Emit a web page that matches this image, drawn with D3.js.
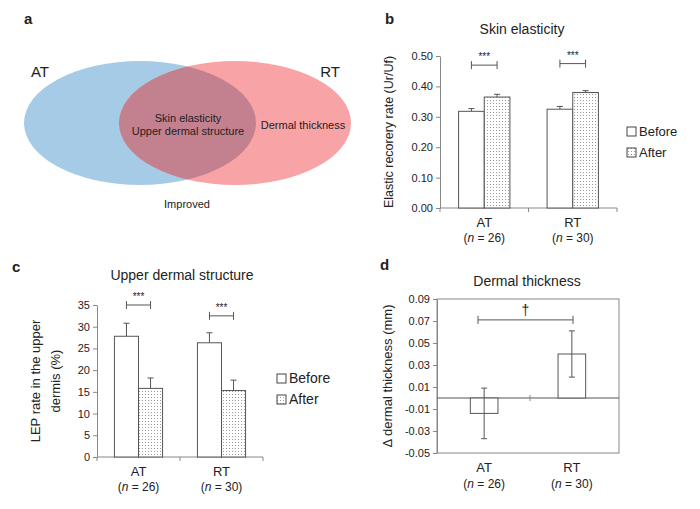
<!DOCTYPE html>
<html><head><meta charset="utf-8">
<script src="https://cdn.jsdelivr.net/npm/d3@7"></script>
<style>body{margin:0;background:#fff}text{font-family:"Liberation Sans",Arial,sans-serif;fill:#222}</style>
</head><body>
<svg id="c" width="700" height="509"></svg>
<script>
const groups = ["AT", "RT"];
const groupN = ["(n = 26)", "(n = 30)"];
const seriesNames = ["Before", "After"];
const elastBefore = [0.318, 0.325], elastBeforeErr = [0.009, 0.009];
const elastAfter = [0.365, 0.380], elastAfterErr = [0.009, 0.006];
const elastTicks = [0, 0.1, 0.2, 0.3, 0.4, 0.5];
const lepBefore = [27.8, 26.3], lepBeforeErr = [3.0, 2.3];
const lepAfter = [15.8, 15.3], lepAfterErr = [2.4, 2.4];
const lepTicks = [0, 5, 10, 15, 20, 25, 30, 35];
const thick = [-0.014, 0.040], thickErrLow = [-0.037, 0.019], thickErrHigh = [0.009, 0.061];
const thickTicks = [-0.05, -0.03, -0.01, 0.01, 0.03, 0.05, 0.07, 0.09];

const FONT = '"Liberation Sans",Arial,sans-serif';
const svg = d3.select("#c");
const defs = svg.append("defs");
const pat = defs.append("pattern").attr("id","dots").attr("width",3).attr("height",3).attr("patternUnits","userSpaceOnUse");
pat.append("rect").attr("width",3).attr("height",3).attr("fill","#fff");
pat.append("rect").attr("x",1).attr("y",1).attr("width",1).attr("height",1).attr("fill","#999");
const grey = "#888";

function label(t,x,y,o={}){const e=svg.append("text").attr("x",x).attr("y",y).text(t).attr("font-size",o.fs||12).attr("text-anchor",o.a||"middle");if(o.b)e.attr("font-weight","bold");if(o.rot)e.attr("transform",`rotate(-90,${x},${y})`);return e;}
function nLabel(x,y,n){const t=svg.append("text").attr("x",x).attr("y",y).attr("text-anchor","middle").attr("font-size",12);t.append("tspan").text("(");t.append("tspan").attr("font-style","italic").text("n");t.append("tspan").text(n.replace("(n",""));}

// Panel a: Venn
label("a",24,24,{fs:15,b:true,a:"start"});
const ellipses=[{cx:140,c:"#a6cbe6"},{cx:235,c:"#f8a3a5"}];
svg.selectAll("ellipse.v").data(ellipses).join("ellipse").attr("cx",d=>d.cx).attr("cy",123).attr("rx",116).attr("ry",62).attr("fill",d=>d.c);
defs.append("clipPath").attr("id","clipB").append("ellipse").attr("cx",140).attr("cy",123).attr("rx",116).attr("ry",62);
svg.append("ellipse").attr("cx",235).attr("cy",123).attr("rx",116).attr("ry",62).attr("fill","#c3808f").attr("clip-path","url(#clipB)");
label("AT",40,77,{fs:15});label("RT",330,77,{fs:15});
label("Skin elasticity",188,122,{fs:11});label("Upper dermal structure",188,135,{fs:11});
label("Dermal thickness",303,129,{fs:11});label("Improved",187,208,{fs:11});

function legend(x,y,fs){seriesNames.forEach((s,i)=>{svg.append("rect").attr("x",x).attr("y",y+i*21-9).attr("width",9).attr("height",9).attr("fill",i?"url(#dots)":"#fff").attr("stroke","#444");label(s,x+12,y+i*21,{fs:fs,a:"start"});});}

function barPanel(o){
  const y=d3.scaleLinear().domain(o.dom).range([o.y0,o.y1]);
  const x0=d3.scaleBand().domain(groups).range([o.x0,o.x1]).paddingInner(0.42).paddingOuter(0.21);
  const x1=d3.scaleBand().domain(seriesNames).range([0,x0.bandwidth()]);
  const ax=svg.append("g").attr("transform",`translate(${o.x0},0)`).call(d3.axisLeft(y).tickValues(o.ticks).tickFormat(o.fmt).tickSize(4).tickSizeOuter(0));
  ax.selectAll("text").attr("font-size",11).style("font-family",FONT).attr("fill","#222");
  ax.selectAll("line,path").attr("stroke",grey);
  svg.append("line").attr("x1",o.x0).attr("x2",o.x1).attr("y1",o.y0).attr("y2",o.y0).attr("stroke",grey);
  [o.x0,(o.x0+o.x1)/2,o.x1].forEach(v=>svg.append("line").attr("x1",v).attr("x2",v).attr("y1",o.y0).attr("y2",o.y0+4).attr("stroke",grey));
  const data=[];groups.forEach((g,i)=>{data.push({g,s:"Before",v:o.b[i],e:o.be[i]});data.push({g,s:"After",v:o.a[i],e:o.ae[i]});});
  const gx=d=>x0(d.g)+x1(d.s);
  svg.selectAll(null).data(data).join("line").attr("x1",d=>gx(d)+x1.bandwidth()/2).attr("x2",d=>gx(d)+x1.bandwidth()/2).attr("y1",d=>y(d.v)).attr("y2",d=>y(d.v+d.e)).attr("stroke","#555");
  svg.selectAll(null).data(data).join("line").attr("x1",d=>gx(d)+x1.bandwidth()/2-3).attr("x2",d=>gx(d)+x1.bandwidth()/2+3).attr("y1",d=>y(d.v+d.e)).attr("y2",d=>y(d.v+d.e)).attr("stroke","#555");
  svg.selectAll(null).data(data).join("rect").attr("x",gx).attr("width",x1.bandwidth()).attr("y",d=>y(d.v)).attr("height",d=>y(0)-y(d.v)).attr("fill",d=>d.s==="After"?"url(#dots)":"#fff").attr("stroke","#555");
  groups.forEach((g,i)=>{
    const bx=x0(g)+x1.bandwidth()/2, ex=x0(g)+x1.bandwidth()*1.5, yy=y(o.sig[i]);
    svg.append("line").attr("x1",bx).attr("x2",ex).attr("y1",yy).attr("y2",yy).attr("stroke","#555");
    [bx,ex].forEach(v=>svg.append("line").attr("x1",v).attr("x2",v).attr("y1",yy-4).attr("y2",yy+4).attr("stroke","#555"));
    label("***",(bx+ex)/2,yy-5,{fs:10});
    label(g,x0(g)+x0.bandwidth()/2,o.y0+19,{fs:13});
    nLabel(x0(g)+x0.bandwidth()/2,o.y0+34,groupN[i]);
  });
}

// Panel b
label("b",385,24,{fs:15,b:true,a:"start"});
label("Skin elasticity",522,34,{fs:14});
barPanel({dom:[0,0.5],y0:208,y1:56,x0:440,x1:617,ticks:elastTicks,fmt:d3.format(".2f"),b:elastBefore,be:elastBeforeErr,a:elastAfter,ae:elastAfterErr,sig:[0.47,0.475]});
label("Elastic recorery rate (Ur/Uf)",393,132,{fs:12.5,rot:true});
legend(627,136,13);

// Panel c
label("c",12,272,{fs:15,b:true,a:"start"});
label("Upper dermal structure",182,280,{fs:14});
barPanel({dom:[0,35],y0:457,y1:305,x0:97,x1:263,ticks:lepTicks,fmt:d3.format("d"),b:lepBefore,be:lepBeforeErr,a:lepAfter,ae:lepAfterErr,sig:[35,32.5]});
label("LEP rate  in the upper",40,381,{fs:13,rot:true});
label("dermis (%)",60,381,{fs:13,rot:true});
legend(277,383,14);

// Panel d
label("d",380,270,{fs:15,b:true,a:"start"});
label("Dermal thickness",527,286,{fs:14});
const yd=d3.scaleLinear().domain([-0.05,0.09]).range([453,299]);
const xd=d3.scaleBand().domain(groups).range([437,619]).paddingInner(0.685).paddingOuter(0.38);
const axd=svg.append("g").attr("transform","translate(437,0)").call(d3.axisLeft(yd).tickValues(thickTicks).tickFormat(d=>d3.format(".2f")(d).replace("−","-")).tickSize(4).tickSizeOuter(0));
axd.selectAll("text").attr("font-size",11).style("font-family",FONT).attr("fill","#222");
axd.selectAll("line,path").attr("stroke",grey);
svg.append("rect").attr("x",437).attr("y",299).attr("width",182).attr("height",154).attr("fill","none").attr("stroke",grey);
svg.append("line").attr("x1",437).attr("x2",619).attr("y1",yd(0)).attr("y2",yd(0)).attr("stroke","#555");
svg.append("line").attr("x1",530).attr("x2",530).attr("y1",yd(0)-3).attr("y2",yd(0)+3).attr("stroke",grey);
svg.selectAll(null).data(groups).join("rect").attr("x",d=>xd(d)).attr("width",xd.bandwidth()).attr("y",(d,i)=>yd(Math.max(0,thick[i]))).attr("height",(d,i)=>Math.abs(yd(thick[i])-yd(0))).attr("fill","#fff").attr("stroke","#555");
groups.forEach((g,i)=>{
  const cx=xd(g)+xd.bandwidth()/2;
  svg.append("line").attr("x1",cx).attr("x2",cx).attr("y1",yd(thickErrLow[i])).attr("y2",yd(thickErrHigh[i])).attr("stroke","#555");
  [thickErrLow[i],thickErrHigh[i]].forEach(v=>svg.append("line").attr("x1",cx-3).attr("x2",cx+3).attr("y1",yd(v)).attr("y2",yd(v)).attr("stroke","#555"));
  label(g,cx,472,{fs:13});nLabel(cx,488,groupN[i]);
});
{const bx=478,ex=573,yy=yd(0.071);
svg.append("line").attr("x1",bx).attr("x2",ex).attr("y1",yy).attr("y2",yy).attr("stroke","#555");
[bx,ex].forEach(v=>svg.append("line").attr("x1",v).attr("x2",v).attr("y1",yy-4).attr("y2",yy+4).attr("stroke","#555"));
label("†",(bx+ex)/2,yy-5,{fs:14});}
label("Δ dermal thickness (mm)",392,376,{fs:13,rot:true});
</script></body></html>
